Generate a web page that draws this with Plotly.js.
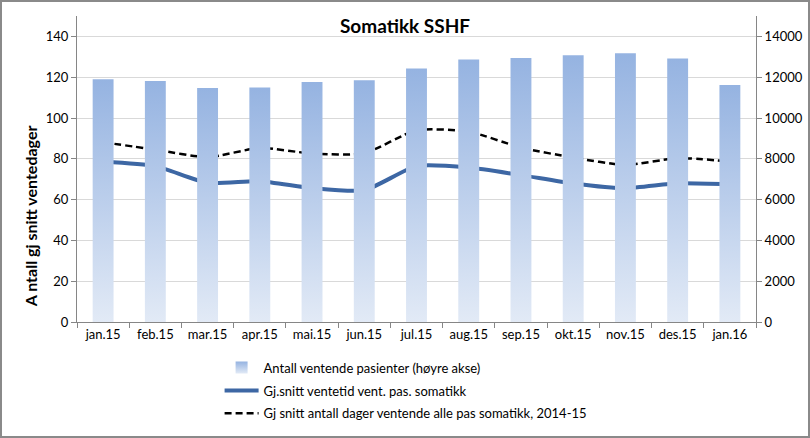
<!DOCTYPE html>
<html>
<head>
<meta charset="utf-8">
<script src="https://cdn.plot.ly/plotly-3.0.1.min.js"></script>
<style>
html,body{margin:0;padding:0;background:#fff;}
#wrap{position:relative;width:810px;height:438px;}
#chart{width:810px;height:438px;}
#frame{position:absolute;left:0;top:0;width:810px;height:438px;box-sizing:border-box;border:2px solid #8a8a8a;pointer-events:none;}
</style>
</head>
<body>
<div id="wrap"><div id="chart"></div><div id="frame"></div></div>
<script>
const categories = ["jan.15","feb.15","mar.15","apr.15","mai.15","jun.15","jul.15","aug.15","sep.15","okt.15","nov.15","des.15","jan.16"];
const waitingPatients = [11900,11810,11470,11500,11760,11850,12430,12870,12940,13070,13180,12920,11620];
const avgWaitSomatic = [78.5,76.4,68.2,69.0,65.6,64.6,76.4,75.7,72.0,67.9,65.6,68.0,67.5];
const avgDays2014_15 = [88.1,84.5,80.8,85.3,82.6,82.7,94.0,93.3,85.5,80.6,77.0,80.3,78.7];
const leftTicks = [0,20,40,60,80,100,120,140];
const rightTicks = [0,2000,4000,6000,8000,10000,12000,14000];

const FONT = "Lato, 'Open Sans', sans-serif";

const traces = [
  {
    type: "bar", x: categories, y: waitingPatients, yaxis: "y2",
    name: "Antall ventende pasienter (høyre akse)", legendgroup: "a",
    marker: {color: "#b4c8ea"}
  },
  {
    type: "scatter", mode: "lines", x: categories, y: avgWaitSomatic,
    name: "Gj.snitt ventetid vent. pas. somatikk", legendgroup: "b",
    line: {color: "#3d67a4", width: 4, shape: "spline", smoothing: 0.6}
  },
  {
    type: "scatter", mode: "lines", x: categories, y: avgDays2014_15,
    name: "Gj snitt antall dager ventende alle pas somatikk, 2014-15", legendgroup: "c",
    line: {color: "#000000", width: 2.5, dash: "7px,4px", shape: "spline", smoothing: 0.6}
  }
];

const layout = {
  width: 810, height: 438,
  margin: {l: 77, r: 54, t: 16, b: 116},
  paper_bgcolor: "#ffffff", plot_bgcolor: "#ffffff",
  font: {family: FONT, size: 13, color: "#000"},
  title: {text: "<b>Somatikk SSHF</b>", font: {family: FONT, size: 19, color: "#000"}, x: 0.5, xanchor: "center", y: 0.94, yanchor: "middle", yref: "container"},
  bargap: 0.6,
  showlegend: true,
  legend: {
    x: 0.21, xanchor: "left", yref: "container", y: 0.195, yanchor: "top",
    orientation: "v", traceorder: "grouped",
    font: {family: FONT, size: 13, color: "#000"},
    bgcolor: "rgba(0,0,0,0)", itemwidth: 34, tracegroupgap: 3
  },
  xaxis: {
    type: "category", tickvals: categories, ticktext: categories,
    showline: true, linecolor: "#868686", linewidth: 1,
    ticks: "outside", ticklen: 5, tickcolor: "#868686", tickson: "boundaries",
    showgrid: false, tickfont: {family: FONT, size: 13, color: "#000"},
    fixedrange: true
  },
  yaxis: {
    range: [0, 150], tickvals: leftTicks, ticktext: leftTicks.map(String),
    showline: true, linecolor: "#868686", linewidth: 1,
    ticks: "outside", ticklen: 5, tickcolor: "#868686",
    showgrid: true, gridcolor: "#d9d9d9", gridwidth: 1,
    zeroline: false, tickfont: {family: FONT, size: 13, color: "#000"}
  },
  yaxis2: {
    range: [0, 15000], tickvals: rightTicks, ticktext: rightTicks.map(String),
    overlaying: "y", side: "right",
    showline: true, linecolor: "#868686", linewidth: 1,
    ticks: "outside", ticklen: 5, tickcolor: "#868686",
    showgrid: false, zeroline: false,
    tickfont: {family: FONT, size: 13, color: "#000"}
  },
  annotations: [{
    text: "<b>A ntall gj snitt ventedager</b>", textangle: -90,
    xref: "paper", yref: "paper", x: -0.068, y: 0.345,
    xanchor: "center", yanchor: "middle", showarrow: false,
    font: {family: FONT, size: 16, color: "#000"}
  }]
};

Plotly.newPlot("chart", traces, layout, {displayModeBar: false, staticPlot: true}).then(function(gd){
  const svg = gd.querySelector("svg.main-svg");
  const ns = "http://www.w3.org/2000/svg";
  let defs = svg.querySelector("defs");
  if (!defs) { defs = document.createElementNS(ns, "defs"); svg.insertBefore(defs, svg.firstChild); }
  const g = document.createElementNS(ns, "linearGradient");
  g.setAttribute("id", "barGrad");
  g.setAttribute("x1", "0"); g.setAttribute("y1", "0"); g.setAttribute("x2", "0"); g.setAttribute("y2", "1");
  [["0", "#95b3e1"], ["1", "#e2eaf6"]].forEach(function(s){
    const st = document.createElementNS(ns, "stop");
    st.setAttribute("offset", s[0]); st.setAttribute("stop-color", s[1]);
    g.appendChild(st);
  });
  defs.appendChild(g);
  const lg = g.cloneNode(true);
  lg.setAttribute("id", "legGrad");
  defs.appendChild(lg);
  gd.querySelectorAll(".barlayer .point path").forEach(function(p){ p.style.fill = "url(#barGrad)"; });
  gd.querySelectorAll(".legend .legendpoints path").forEach(function(p){
    if (p.closest(".legendbar") || p.classList.contains("legendundefined")) { p.style.fill = "url(#legGrad)"; }
  });
});
</script>
</body>
</html>
